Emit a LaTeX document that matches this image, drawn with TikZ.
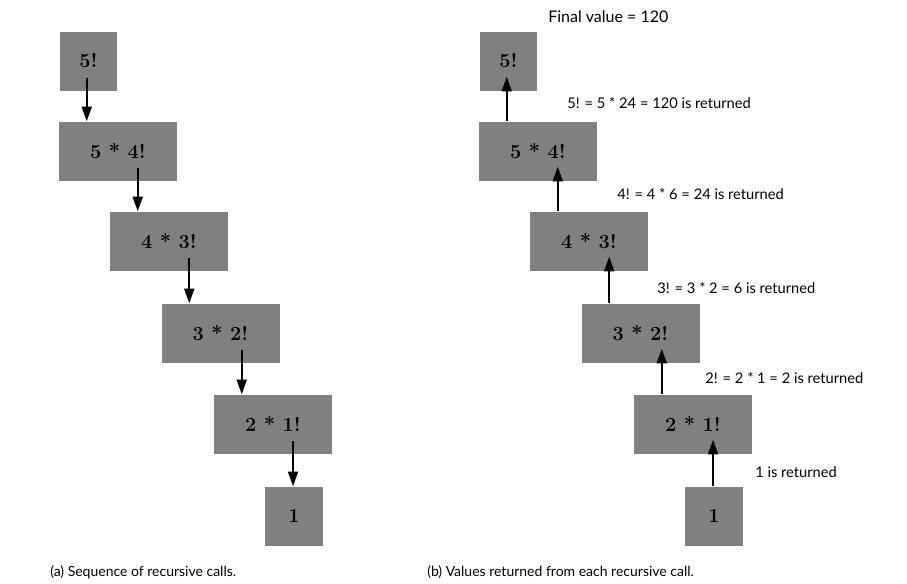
\documentclass[tikz,border=0pt]{standalone}
\usepackage{fontspec}
\setsansfont{Lato}
\usetikzlibrary{arrows.meta,calc}
\begin{document}
\begin{tikzpicture}[x=0.75pt, y=-0.75pt, font=\sffamily\fontsize{10.5}{12}\selectfont, line join=round,
		>={Triangle[length=11pt,width=7.5pt]},
		callbox/.style={fill=black!50, inner sep=0pt, font=\rmfamily\bfseries\fontsize{15}{17}\selectfont},
		wide/.style={callbox, minimum width=88.5pt, minimum height=44.25pt},
		narrow/.style={callbox, minimum width=43pt, minimum height=44.25pt},
		callarrow/.style={->, line width=1.5pt},
		note/.style={anchor=west, inner sep=0pt, font=\sffamily\fontsize{11}{13}\selectfont}]
		\useasboundingbox (0,0) rectangle (907,583);
		% (a) calls going down
		\node[narrow] (a1) at (88.5,61) {5!};
		\node[wide] (a2) at (118,151) {5 * 4!};
		\node[wide] (a3) at (169,241) {4 * 3!};
		\node[wide] (a4) at (220.5,333) {3 * 2!};
		\node[wide] (a5) at (273,424) {2 * 1!};
		\node[narrow] (a6) at (294,516) {1};
		% (b) values going up
		\node[narrow] (b1) at (508.5,61) {5!};
		\node[wide] (b2) at (538,151) {5 * 4!};
		\node[wide] (b3) at (589,241) {4 * 3!};
		\node[wide] (b4) at (640.5,333) {3 * 2!};
		\node[wide] (b5) at (693,424) {2 * 1!};
		\node[narrow] (b6) at (714,516) {1};
		\foreach \hi/\lo in {1/2,2/3,3/4,4/5,5/6} {
			\coordinate (t\lo) at ($(a\lo.north west)+(28,0)$);
			\draw[callarrow] ($(t\lo |- a\hi.south)+(0,-13)$) -- (t\lo);
			\coordinate (u\lo) at ($(b\lo.north west)+(28,0)$);
			\draw[callarrow] (u\lo) -- ($(u\lo |- b\hi.south)+(0,-14)$);
		}
		\node[note, font=\sffamily\fontsize{12}{14}\selectfont] (fin) at (548,17) {Final value = 120};
		\node[note] (r5) at (567,103) {5! = 5 * 24 = 120 is returned};
		\node[note] (r4) at (617,194) {4! = 4 * 6 = 24 is returned};
		\node[note] (r3) at (657,288) {3! = 3 * 2 = 6 is returned};
		\node[note] (r2) at (705,378) {2! = 2 * 1 = 2 is returned};
		\node[note] (r1) at (755,472) {1 is returned};
		\node[anchor=west, inner sep=0pt] (capa) at (50,572) {(a) Sequence of recursive calls.};
		\node[anchor=west, inner sep=0pt] (capb) at (427,572) {(b) Values returned from each recursive call.};
	\end{tikzpicture}
\end{document}
